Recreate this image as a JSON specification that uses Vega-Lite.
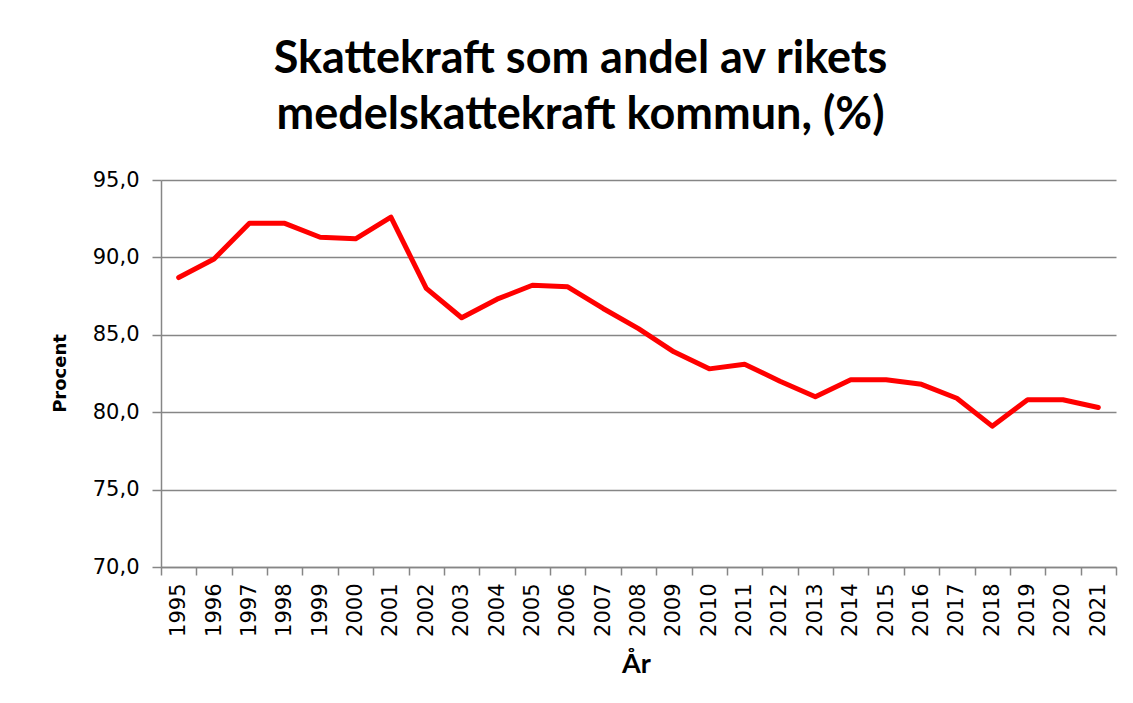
{
  "$schema": "https://vega.github.io/schema/vega-lite/v6.json",
  "autosize": "none",
  "width": 955,
  "height": 387,
  "padding": {"left": 161, "top": 180, "right": 17, "bottom": 136},
  "background": "white",
  "config": {"view": {"stroke": null}},
  "title": {
    "text": ["Skattekraft som andel av rikets", "medelskattekraft kommun, (%)"],
    "font": "Lato",
    "fontSize": 45,
    "fontWeight": "bold",
    "color": "#000000",
    "lineHeight": 56,
    "anchor": "middle",
    "frame": "group",
    "dx": -58,
    "offset": -5,
    "baseline": "alphabetic"
  },
  "data": {
    "values": [
      {"År": 1995, "Procent": 88.7},
      {"År": 1996, "Procent": 89.9},
      {"År": 1997, "Procent": 92.2},
      {"År": 1998, "Procent": 92.2},
      {"År": 1999, "Procent": 91.3},
      {"År": 2000, "Procent": 91.2},
      {"År": 2001, "Procent": 92.6},
      {"År": 2002, "Procent": 88.0},
      {"År": 2003, "Procent": 86.1},
      {"År": 2004, "Procent": 87.3},
      {"År": 2005, "Procent": 88.2},
      {"År": 2006, "Procent": 88.1},
      {"År": 2007, "Procent": 86.7},
      {"År": 2008, "Procent": 85.4},
      {"År": 2009, "Procent": 83.9},
      {"År": 2010, "Procent": 82.8},
      {"År": 2011, "Procent": 83.1},
      {"År": 2012, "Procent": 82.0},
      {"År": 2013, "Procent": 81.0},
      {"År": 2014, "Procent": 82.1},
      {"År": 2015, "Procent": 82.1},
      {"År": 2016, "Procent": 81.8},
      {"År": 2017, "Procent": 80.9},
      {"År": 2018, "Procent": 79.1},
      {"År": 2019, "Procent": 80.8},
      {"År": 2020, "Procent": 80.8},
      {"År": 2021, "Procent": 80.3}
    ]
  },
  "resolve": {"axis": {"x": "independent", "y": "independent"}},
  "layer": [
    {
      "mark": {"type": "line", "stroke": "#ff0000", "strokeWidth": 5, "strokeJoin": "round", "strokeCap": "round"},
      "encoding": {
        "x": {
          "field": "År",
          "type": "quantitative",
          "scale": {"domain": [1994.5, 2021.5], "nice": false, "zero": false},
          "axis": {
            "orient": "bottom",
            "values": [1995,1996,1997,1998,1999,2000,2001,2002,2003,2004,2005,2006,2007,2008,2009,2010,2011,2012,2013,2014,2015,2016,2017,2018,2019,2020,2021],
            "format": "d",
            "labelAngle": -90,
            "labelFont": "DejaVu Sans",
            "labelFontSize": 21,
            "labelColor": "#000000",
            "labelPadding": 16,
            "labelFlush": false,
            "labelOverlap": false,
            "ticks": false,
            "grid": false,
            "domain": true,
            "domainColor": "#868686",
            "domainWidth": 1.5,
            "title": "År",
            "titleFont": "Lato",
            "titleFontSize": 27,
            "titleFontWeight": "bold",
            "titleColor": "#000000",
            "titleX": 475,
            "titleY": 97,
            "titleBaseline": "middle",
            "titleAlign": "center"
          }
        },
        "y": {
          "field": "Procent",
          "type": "quantitative",
          "scale": {"domain": [70, 95], "nice": false, "zero": false},
          "axis": {
            "values": [70, 75, 80, 85, 90, 95],
            "labelExpr": "replace(format(datum.value, '.1f'), '.', ',')",
            "labelFont": "DejaVu Sans",
            "labelFontSize": 21,
            "labelColor": "#000000",
            "labelPadding": 13,
            "ticks": true,
            "tickSize": 9,
            "tickColor": "#868686",
            "tickWidth": 1.5,
            "grid": true,
            "gridColor": "#868686",
            "gridWidth": 1.5,
            "domain": true,
            "domainColor": "#868686",
            "domainWidth": 1.5,
            "title": "Procent",
            "titleFont": "DejaVu Sans",
            "titleFontSize": 18,
            "titleFontWeight": "bold",
            "titleColor": "#000000",
            "titleAngle": -90,
            "titleX": -101,
            "titleY": 193,
            "titleAlign": "center",
            "titleBaseline": "middle"
          }
        }
      }
    },
    {
      "mark": {"type": "line", "strokeOpacity": 0},
      "encoding": {
        "x": {
          "field": "År",
          "type": "quantitative",
          "axis": {
            "orient": "bottom",
            "values": [1994.5,1995.5,1996.5,1997.5,1998.5,1999.5,2000.5,2001.5,2002.5,2003.5,2004.5,2005.5,2006.5,2007.5,2008.5,2009.5,2010.5,2011.5,2012.5,2013.5,2014.5,2015.5,2016.5,2017.5,2018.5,2019.5,2020.5,2021.5],
            "labels": false,
            "ticks": true,
            "tickSize": 8,
            "tickColor": "#868686",
            "tickWidth": 1.5,
            "domain": false,
            "grid": false,
            "title": null
          }
        },
        "y": {"field": "Procent", "type": "quantitative", "axis": null}
      }
    }
  ]
}
